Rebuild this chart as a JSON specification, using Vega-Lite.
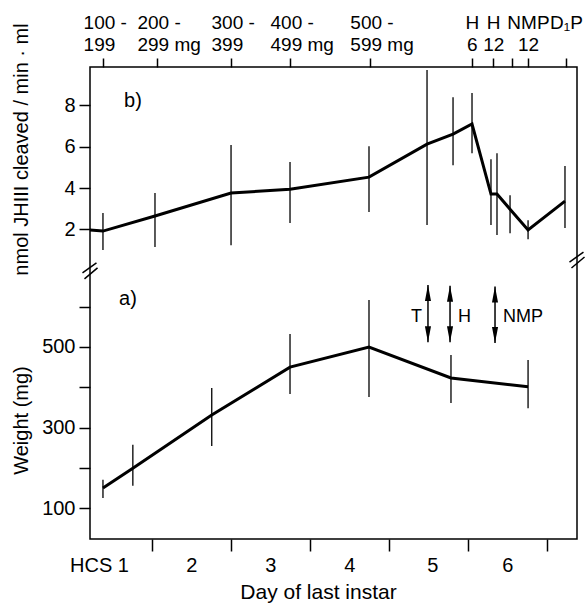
{
  "$schema": "https://vega.github.io/schema/vega-lite/v6.json",
  "width": 487,
  "height": 472,
  "autosize": "none",
  "padding": {"left": 90, "top": 67, "right": 11, "bottom": 69},
  "background": "white",
  "config": {
    "font": "Liberation Sans",
    "view": {"stroke": "black", "strokeWidth": 1.5},
    "axis": {
      "domain": false,
      "grid": false,
      "tickColor": "black",
      "tickWidth": 1.5,
      "labelColor": "black",
      "titleColor": "black",
      "labelFontSize": 20,
      "titleFontSize": 20,
      "titleFontWeight": "normal",
      "labelOverlap": false,
      "labelFlush": false,
      "labelBound": false
    }
  },
  "datasets": {
    "b": [
      {"x": 0.22, "v": 1.97},
      {"x": 0.384, "v": 1.92, "lo": 1.0, "hi": 2.79},
      {"x": 1.042, "v": 2.65, "lo": 1.15, "hi": 3.76},
      {"x": 2.004, "v": 3.76, "lo": 1.24, "hi": 6.08},
      {"x": 2.75, "v": 3.95, "lo": 2.31, "hi": 5.26},
      {"x": 3.749, "v": 4.53, "lo": 2.84, "hi": 6.03},
      {"x": 4.483, "v": 6.13, "lo": 2.21, "hi": 9.71},
      {"x": 4.812, "v": 6.61, "lo": 5.11, "hi": 8.4},
      {"x": 5.052, "v": 7.1, "lo": 5.69, "hi": 8.6},
      {"x": 5.292, "v": 3.71, "lo": 2.21, "hi": 5.4},
      {"x": 5.368, "v": 3.71, "lo": 1.73, "hi": 5.69},
      {"x": 5.533, "v": 2.98, "lo": 1.82, "hi": 3.66},
      {"x": 5.761, "v": 1.97, "lo": 1.53, "hi": 2.45},
      {"x": 6.228, "v": 3.37, "lo": 2.07, "hi": 5.07}
    ],
    "a": [
      {"x": 0.384, "w": 150, "lo": 125, "hi": 170},
      {"x": 0.762, "w": 199, "lo": 155, "hi": 257},
      {"x": 1.76, "w": 331, "lo": 254, "hi": 398},
      {"x": 2.75, "w": 450, "lo": 383, "hi": 532},
      {"x": 3.749, "w": 500, "lo": 376, "hi": 617},
      {"x": 4.786, "w": 423, "lo": 361, "hi": 480},
      {"x": 5.761, "w": 401, "lo": 348, "hi": 468}
    ],
    "arrows": [
      {"x": 4.495, "top": 654, "bot": 512, "mid": 575, "label": "T"},
      {"x": 4.774, "top": 652, "bot": 512, "mid": 575, "label": "H"},
      {"x": 5.343, "top": 650, "bot": 510, "mid": 575, "label": "NMP"}
    ],
    "breaks": [
      {"x": 0.22, "y": 689},
      {"x": 6.38, "y": 716}
    ]
  },
  "layer": [
    {
      "data": {"name": "b"},
      "layer": [
        {
          "mark": {"type": "line", "stroke": "black", "strokeWidth": 3},
          "encoding": {
            "x": {
              "field": "x", "type": "quantitative",
              "scale": {"domain": [0.22, 6.38], "nice": false, "zero": false},
              "axis": {
                "orient": "top",
                "title": null,
                "values": [0.386, 1.067, 2.004, 2.75, 3.76, 5.05, 5.32, 5.56, 5.76, 6.24],
                "tickSize": 9,
                "labelPadding": 26,
                "labelFontSize": 19,
                "labelLineHeight": 22,
                "labelAlign": {"condition": {"test": "datum.value < 4", "value": "left"}, "value": "center"},
                "labelOffset": {"condition": {"test": "datum.value < 4", "value": -20}, "value": 0},
                "labelExpr": "datum.value < 0.5 ? ['100 -','199'] : datum.value < 1.5 ? ['200 -','299 mg'] : datum.value < 2.5 ? ['300 -','399'] : datum.value < 3 ? ['400 -','499 mg'] : datum.value < 4 ? ['500 -','599 mg'] : datum.value < 5.2 ? ['H','6'] : datum.value < 5.4 ? ['H','12'] : datum.value < 5.6 ? '' : datum.value < 6 ? ['NMP','12'] : ['D₁P',' ']"
              }
            },
            "y": {
              "field": "v", "type": "quantitative",
              "scale": {"domain": [-12.98, 9.86], "nice": false, "zero": false},
              "axis": {
                "orient": "left",
                "values": [2, 4, 6, 8],
                "tickSize": 11,
                "labelPadding": 4,
                "title": "nmol JHIII cleaved / min · ml",
                "titleX": -69,
                "titleY": 82,
                "titleAlign": "center",
                "titleBaseline": "middle"
              }
            }
          }
        },
        {
          "transform": [{"filter": "isValid(datum.lo)"}],
          "mark": {"type": "rule", "stroke": "black", "strokeWidth": 1.3},
          "encoding": {
            "x": {"field": "x", "type": "quantitative"},
            "y": {"field": "lo", "type": "quantitative"},
            "y2": {"field": "hi"}
          }
        },
        {
          "data": {"values": [{"x": 0.764, "v": 8.21, "label": "b)"}]},
          "mark": {"type": "text", "fontSize": 20, "color": "black", "font": "Liberation Sans"},
          "encoding": {
            "x": {"field": "x", "type": "quantitative"},
            "y": {"field": "v", "type": "quantitative"},
            "text": {"field": "label"}
          }
        }
      ]
    },
    {
      "data": {"name": "a"},
      "layer": [
        {
          "mark": {"type": "line", "stroke": "black", "strokeWidth": 3},
          "encoding": {
            "x": {
              "field": "x", "type": "quantitative",
              "scale": {"domain": [0.22, 6.38], "nice": false, "zero": false},
              "axis": {
                "orient": "bottom",
                "values": [0.334, 1, 1.5, 2, 2.5, 3, 3.5, 4, 4.55, 5, 5.5, 6],
                "tickSize": 12,
                "labelPadding": 4,
                "tickOpacity": {"condition": {"test": "datum.value % 1 != 0", "value": 0}, "value": 1},
                "labelExpr": "datum.value % 1 == 0 ? '' : datum.value < 1 ? 'HCS 1' : toString(ceil(datum.value))",
                "title": "Day of last instar",
                "titleFontSize": 21,
                "titleX": 228,
                "titleY": 53,
                "titleAlign": "center",
                "titleBaseline": "middle"
              }
            },
            "y": {
              "field": "w", "type": "quantitative",
              "scale": {"domain": [23, 1195.6], "nice": false, "zero": false},
              "axis": {
                "orient": "left",
                "values": [100, 200, 300, 400, 500, 600],
                "labelExpr": "datum.value % 200 == 100 ? datum.label : ''",
                "tickSize": 11,
                "labelPadding": 4,
                "title": "Weight (mg)",
                "titleX": -69,
                "titleY": 353,
                "titleAlign": "center",
                "titleBaseline": "middle"
              }
            }
          }
        },
        {
          "mark": {"type": "rule", "stroke": "black", "strokeWidth": 1.3},
          "encoding": {
            "x": {"field": "x", "type": "quantitative"},
            "y": {"field": "lo", "type": "quantitative"},
            "y2": {"field": "hi"}
          }
        },
        {
          "data": {"values": [{"x": 0.70, "w": 619, "label": "a)"}]},
          "mark": {"type": "text", "fontSize": 20, "color": "black"},
          "encoding": {
            "x": {"field": "x", "type": "quantitative"},
            "y": {"field": "w", "type": "quantitative"},
            "text": {"field": "label"}
          }
        },
        {
          "data": {"name": "arrows"},
          "mark": {"type": "rule", "stroke": "black", "strokeWidth": 1.5},
          "encoding": {
            "x": {"field": "x", "type": "quantitative"},
            "y": {"field": "top", "type": "quantitative"},
            "y2": {"field": "bot"}
          }
        },
        {
          "data": {"name": "arrows"},
          "mark": {"type": "point", "shape": "M0,-1L0.38,1L-0.38,1Z", "size": 256, "filled": true, "color": "black", "opacity": 1, "yOffset": 8},
          "encoding": {
            "x": {"field": "x", "type": "quantitative"},
            "y": {"field": "top", "type": "quantitative"}
          }
        },
        {
          "data": {"name": "arrows"},
          "mark": {"type": "point", "shape": "M0,1L0.38,-1L-0.38,-1Z", "size": 256, "filled": true, "color": "black", "opacity": 1, "yOffset": -8},
          "encoding": {
            "x": {"field": "x", "type": "quantitative"},
            "y": {"field": "bot", "type": "quantitative"}
          }
        },
        {
          "data": {"name": "arrows"},
          "transform": [{"filter": "datum.label == 'T'"}],
          "mark": {"type": "text", "fontSize": 18, "color": "black", "align": "right", "dx": -6},
          "encoding": {
            "x": {"field": "x", "type": "quantitative"},
            "y": {"field": "mid", "type": "quantitative"},
            "text": {"field": "label"}
          }
        },
        {
          "data": {"name": "arrows"},
          "transform": [{"filter": "datum.label != 'T'"}],
          "mark": {"type": "text", "fontSize": 18, "color": "black", "align": "left", "dx": 8},
          "encoding": {
            "x": {"field": "x", "type": "quantitative"},
            "y": {"field": "mid", "type": "quantitative"},
            "text": {"field": "label"}
          }
        },
        {
          "data": {"name": "breaks"},
          "mark": {"type": "point", "shape": "M-0.94,0.25L0.81,-1M-0.69,1L0.94,-0.38", "size": 256, "filled": false, "stroke": "black", "strokeWidth": 1.5, "opacity": 1},
          "encoding": {
            "x": {"field": "x", "type": "quantitative"},
            "y": {"field": "y", "type": "quantitative"}
          }
        }
      ]
    }
  ],
  "resolve": {"scale": {"x": "independent", "y": "independent"}}
}
